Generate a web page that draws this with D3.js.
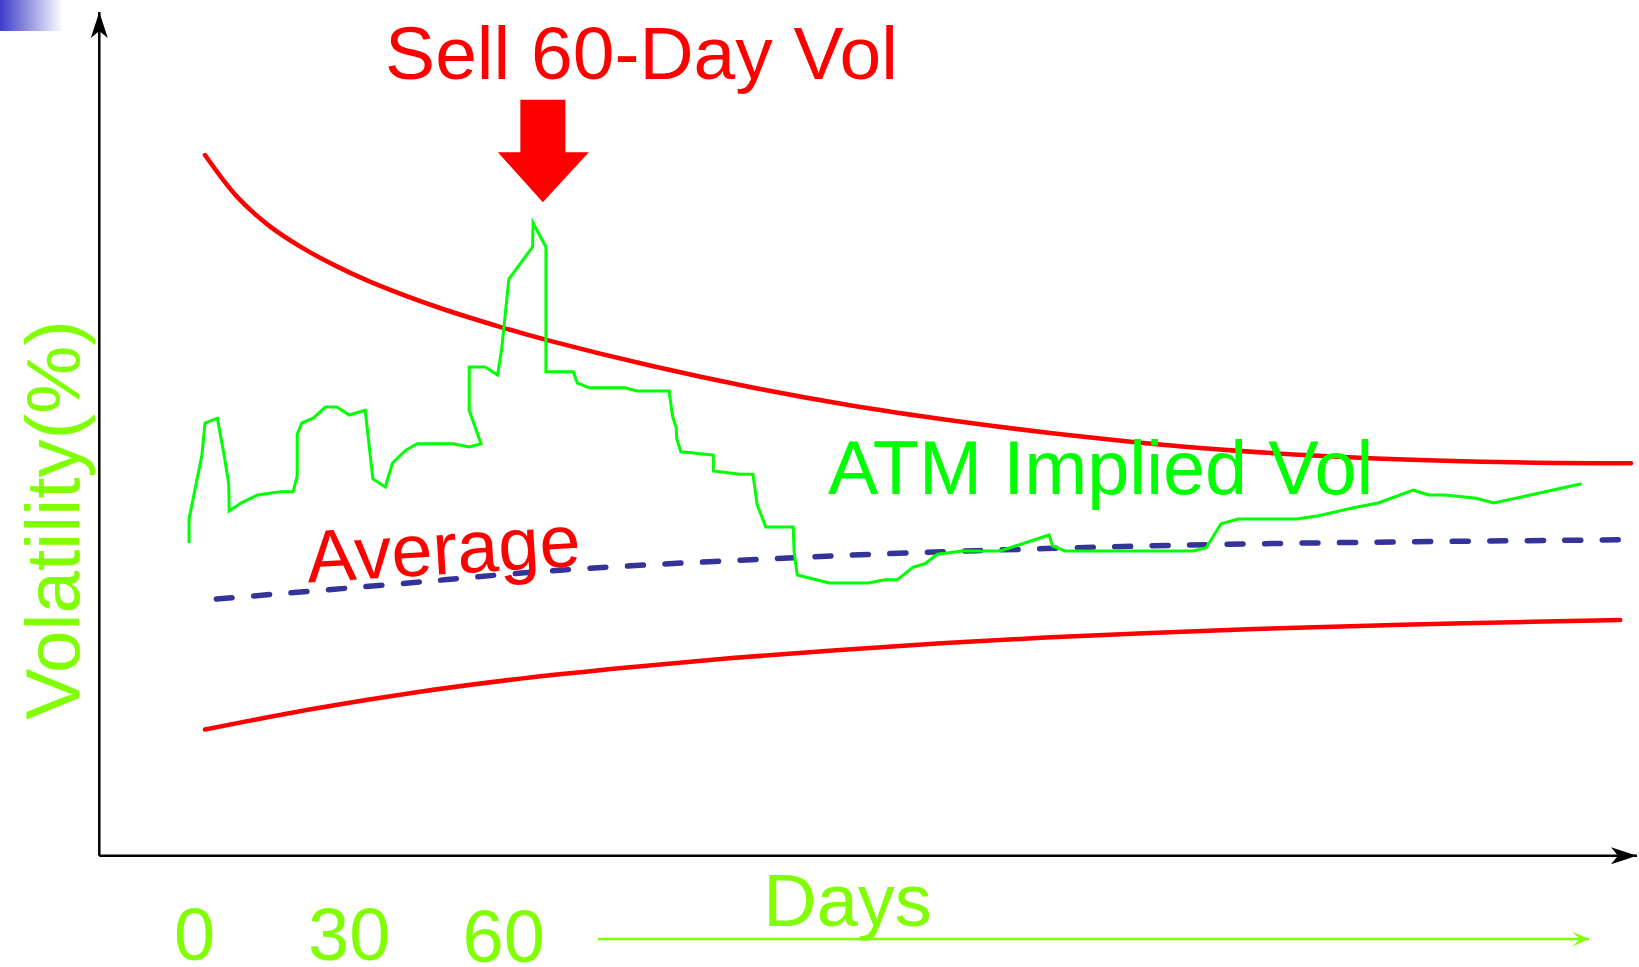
<!DOCTYPE html>
<html>
<head>
<meta charset="utf-8">
<script src="https://cdn.jsdelivr.net/npm/d3@7"></script>
<style>
	body { margin: 0; background: #fff; }
	text { font-family: "Liberation Sans", Arial, sans-serif; }
</style>
</head>
<body>
<div id="chart"></div>
<script>
	// days on x, volatility (%) on y
	const xTicks = [0, 30, 60]

	// ATM implied vol path [day, vol]
	const atmImplied = [
		[-1.0, 19.5], [-1.0, 21.0], [1.5, 25.0], [2.1, 27.0], [4.5, 27.3], [5.8, 25.0],
		[6.7, 23.2], [6.8, 21.5], [9.1, 22.0], [12.3, 22.5], [16.7, 22.7], [19.2, 22.7],
		[20.0, 23.7], [20.0, 26.3], [20.9, 27.0], [23.1, 27.3], [25.5, 28.0], [27.7, 28.0],
		[30.1, 27.5], [33.2, 27.8], [34.7, 23.5], [37.1, 23.0], [38.5, 24.5], [41.1, 25.3],
		[43.3, 25.7], [50.3, 25.7], [53.4, 25.5], [55.7, 25.7], [53.4, 27.8], [53.4, 30.5],
		[56.5, 30.5], [58.9, 30.0], [59.7, 31.6], [61.1, 36.0], [65.7, 38.0], [65.8, 39.5],
		[68.3, 38.0], [68.3, 30.2], [73.6, 30.2], [74.4, 29.5], [76.7, 29.2], [83.7, 29.2],
		[85.9, 29.0], [92.2, 29.0], [92.9, 27.4], [93.6, 26.7], [93.7, 26.0], [94.5, 25.2],
		[100.8, 25.0], [100.8, 24.0], [106.0, 23.8], [108.5, 23.8], [109.3, 21.9], [111.0, 20.5],
		[116.3, 20.5], [116.5, 18.9], [117.1, 17.5], [123.3, 17.0], [130.9, 17.0], [134.1, 17.2],
		[136.5, 17.2], [139.6, 18.0], [141.9, 18.2], [144.3, 18.8], [149.2, 19.0], [156.5, 19.0],
		[166.0, 20.0], [166.7, 19.3], [169.1, 19.0], [194.0, 19.0], [196.5, 19.2], [199.4, 20.7],
		[202.7, 21.0], [214.1, 21.0], [218.3, 21.2], [225.1, 21.7], [229.9, 22.0], [236.7, 22.8],
		[239.8, 22.5], [242.9, 22.5], [249.0, 22.3], [252.3, 22.0], [269.4, 23.2]
	]

	// upper and lower cone of realised vol
	const upperBand = [
		[2.1, 43.75], [8.3, 41.15], [14.7, 39.29], [21.1, 37.93], [27.5, 36.82], [34.1, 35.84],
		[47.15, 34.25], [60.0, 32.95], [69.1, 32.13], [88.5, 30.59], [107.9, 29.25], [127.3, 28.11],
		[146.8, 27.17], [166.2, 26.38], [195.3, 25.44], [228.3, 24.8], [253.6, 24.56], [279.0, 24.48]
	]
	const lowerBand = [
		[2.1, 7.84], [23.2, 9.14], [43.5, 10.19], [63.8, 11.04], [84.1, 11.72], [104.4, 12.31],
		[124.7, 12.8], [145.0, 13.23], [165.3, 13.59], [185.6, 13.88], [205.9, 14.12], [226.2, 14.32],
		[246.5, 14.48], [276.9, 14.69]
	]
	const averageVol = [
		[4.3, 16.0], [38.0, 16.9], [71.0, 17.8], [124.6, 18.7], [165.2, 19.15], [205.8, 19.45],
		[276.5, 19.7]
	]

	const sellDay = 67.7
	const sellVol = 40.8

	const width = 1639
	const height = 967
	const axisY = 855.7
	const axisX = 99.3

	const x = d3.scaleLinear()
		.domain([0, 280])
		.range([194.2, 1636.2])

	const y = d3.scaleLinear()
		.domain([0, 50])
		.range([855, 55])

	const svg = d3.select('#chart')
		.append('svg')
		.attr('width', width)
		.attr('height', height)

	const defs = svg.append('defs')

	const grad = defs.append('linearGradient').attr('id', 'corner')
	grad.append('stop').attr('offset', '0%').attr('stop-color', '#3c3cc8')
	grad.append('stop').attr('offset', '100%').attr('stop-color', '#ffffff')

	function arrowMarker(id, color, len, half, notch) {
		defs.append('marker')
			.attr('id', id)
			.attr('markerUnits', 'userSpaceOnUse')
			.attr('viewBox', `${-len - 1} ${-half - 1} ${len + 2} ${half * 2 + 2}`)
			.attr('markerWidth', len + 2)
			.attr('markerHeight', half * 2 + 2)
			.attr('refX', 0)
			.attr('refY', 0)
			.attr('orient', 'auto')
			.append('path')
			.attr('d', `M0,0 L${-len},${-half} L${-len + notch},0 L${-len},${half} Z`)
			.attr('fill', color)
	}
	arrowMarker('black-head', '#000', 26, 8.5, 7)
	arrowMarker('green-head', '#80ff00', 17, 7.5, 8)

	svg.append('rect')
		.attr('x', 0)
		.attr('y', 0)
		.attr('width', 63)
		.attr('height', 31)
		.attr('fill', 'url(#corner)')

	// axes with arrow heads
	svg.append('line')
		.attr('x1', axisX).attr('y1', axisY)
		.attr('x2', axisX).attr('y2', 12)
		.attr('stroke', '#000')
		.attr('stroke-width', 2.5)
		.attr('marker-end', 'url(#black-head)')

	svg.append('line')
		.attr('x1', axisX).attr('y1', axisY)
		.attr('x2', 1637).attr('y2', axisY)
		.attr('stroke', '#000')
		.attr('stroke-width', 2.5)
		.attr('marker-end', 'url(#black-head)')

	const xAxis = d3.axisBottom(x)
		.tickValues(xTicks)
		.tickSize(0)
		.tickFormat(d3.format('d'))

	svg.append('g')
		.attr('class', 'x-axis')
		.attr('transform', `translate(0 ${axisY})`)
		.call(xAxis)
		.call(g => g.select('.domain').remove())
		.selectAll('text')
		.attr('y', d => d === 60 ? 106 : 104)
		.attr('dy', null)
		.attr('font-size', '74px')
		.attr('font-family', '"Liberation Sans", Arial, sans-serif')
		.attr('fill', '#80ff00')

	const line = d3.line()
		.x(d => x(d[0]))
		.y(d => y(d[1]))

	const smooth = d3.line()
		.x(d => x(d[0]))
		.y(d => y(d[1]))
		.curve(d3.curveCatmullRom.alpha(0.5))

	svg.append('path')
		.datum(upperBand)
		.attr('d', smooth)
		.attr('fill', 'none')
		.attr('stroke', '#ff0000')
		.attr('stroke-width', 4.5)
		.attr('stroke-linecap', 'round')

	svg.append('path')
		.datum(lowerBand)
		.attr('d', smooth)
		.attr('fill', 'none')
		.attr('stroke', '#ff0000')
		.attr('stroke-width', 4.5)
		.attr('stroke-linecap', 'round')

	const avgPath = svg.append('path')
		.datum(averageVol)
		.attr('d', smooth)
		.attr('fill', 'none')
		.attr('stroke', '#333399')
		.attr('stroke-width', 5.5)
		.attr('stroke-linecap', 'round')

	// fit the dash period so the line starts and ends on a dash
	const dash = 16
	const avgLen = avgPath.node().getTotalLength()
	const nDash = Math.round((avgLen - dash) / 37.3)
	avgPath.attr('stroke-dasharray', `${dash} ${(avgLen - dash) / nDash - dash}`)

	svg.append('path')
		.datum(atmImplied)
		.attr('d', line)
		.attr('fill', 'none')
		.attr('stroke', '#00ff00')
		.attr('stroke-width', 3)
		.attr('stroke-linejoin', 'miter')

	// big red "sell" arrow
	const ax = x(sellDay)
	const tipY = y(sellVol)
	svg.append('path')
		.attr('d', `M${ax - 22.5},${tipY - 102.4} L${ax + 22.5},${tipY - 102.4} L${ax + 22.5},${tipY - 50}
			L${ax + 46},${tipY - 50} L${ax},${tipY} L${ax - 45},${tipY - 50} L${ax - 22.5},${tipY - 50} Z`)
		.attr('fill', '#ff0000')

	svg.append('text')
		.attr('x', 641.5)
		.attr('y', 79)
		.attr('text-anchor', 'middle')
		.attr('font-size', '75px')
		.attr('fill', '#ff0000')
		.text('Sell 60-Day Vol')

	svg.append('text')
		.attr('x', 828)
		.attr('y', 494)
		.attr('font-size', '75.7px')
		.attr('fill', '#00ff00')
		.text('ATM Implied Vol')

	svg.append('text')
		.attr('transform', 'translate(308 582.5) rotate(-3.5)')
		.attr('font-size', '74px')
		.attr('fill', '#ff0000')
		.text('Average')

	svg.append('text')
		.attr('transform', 'translate(78.5 520) rotate(-90)')
		.attr('text-anchor', 'middle')
		.attr('font-size', '76.5px')
		.attr('fill', '#80ff00')
		.text('Volatility(%)')

	svg.append('text')
		.attr('x', 847.5)
		.attr('y', 926)
		.attr('text-anchor', 'middle')
		.attr('font-size', '74px')
		.attr('fill', '#80ff00')
		.text('Days')

	svg.append('line')
		.attr('x1', 598).attr('y1', 939)
		.attr('x2', 1589).attr('y2', 939)
		.attr('stroke', '#80ff00')
		.attr('stroke-width', 2.5)
		.attr('marker-end', 'url(#green-head)')
</script>
</body>
</html>
